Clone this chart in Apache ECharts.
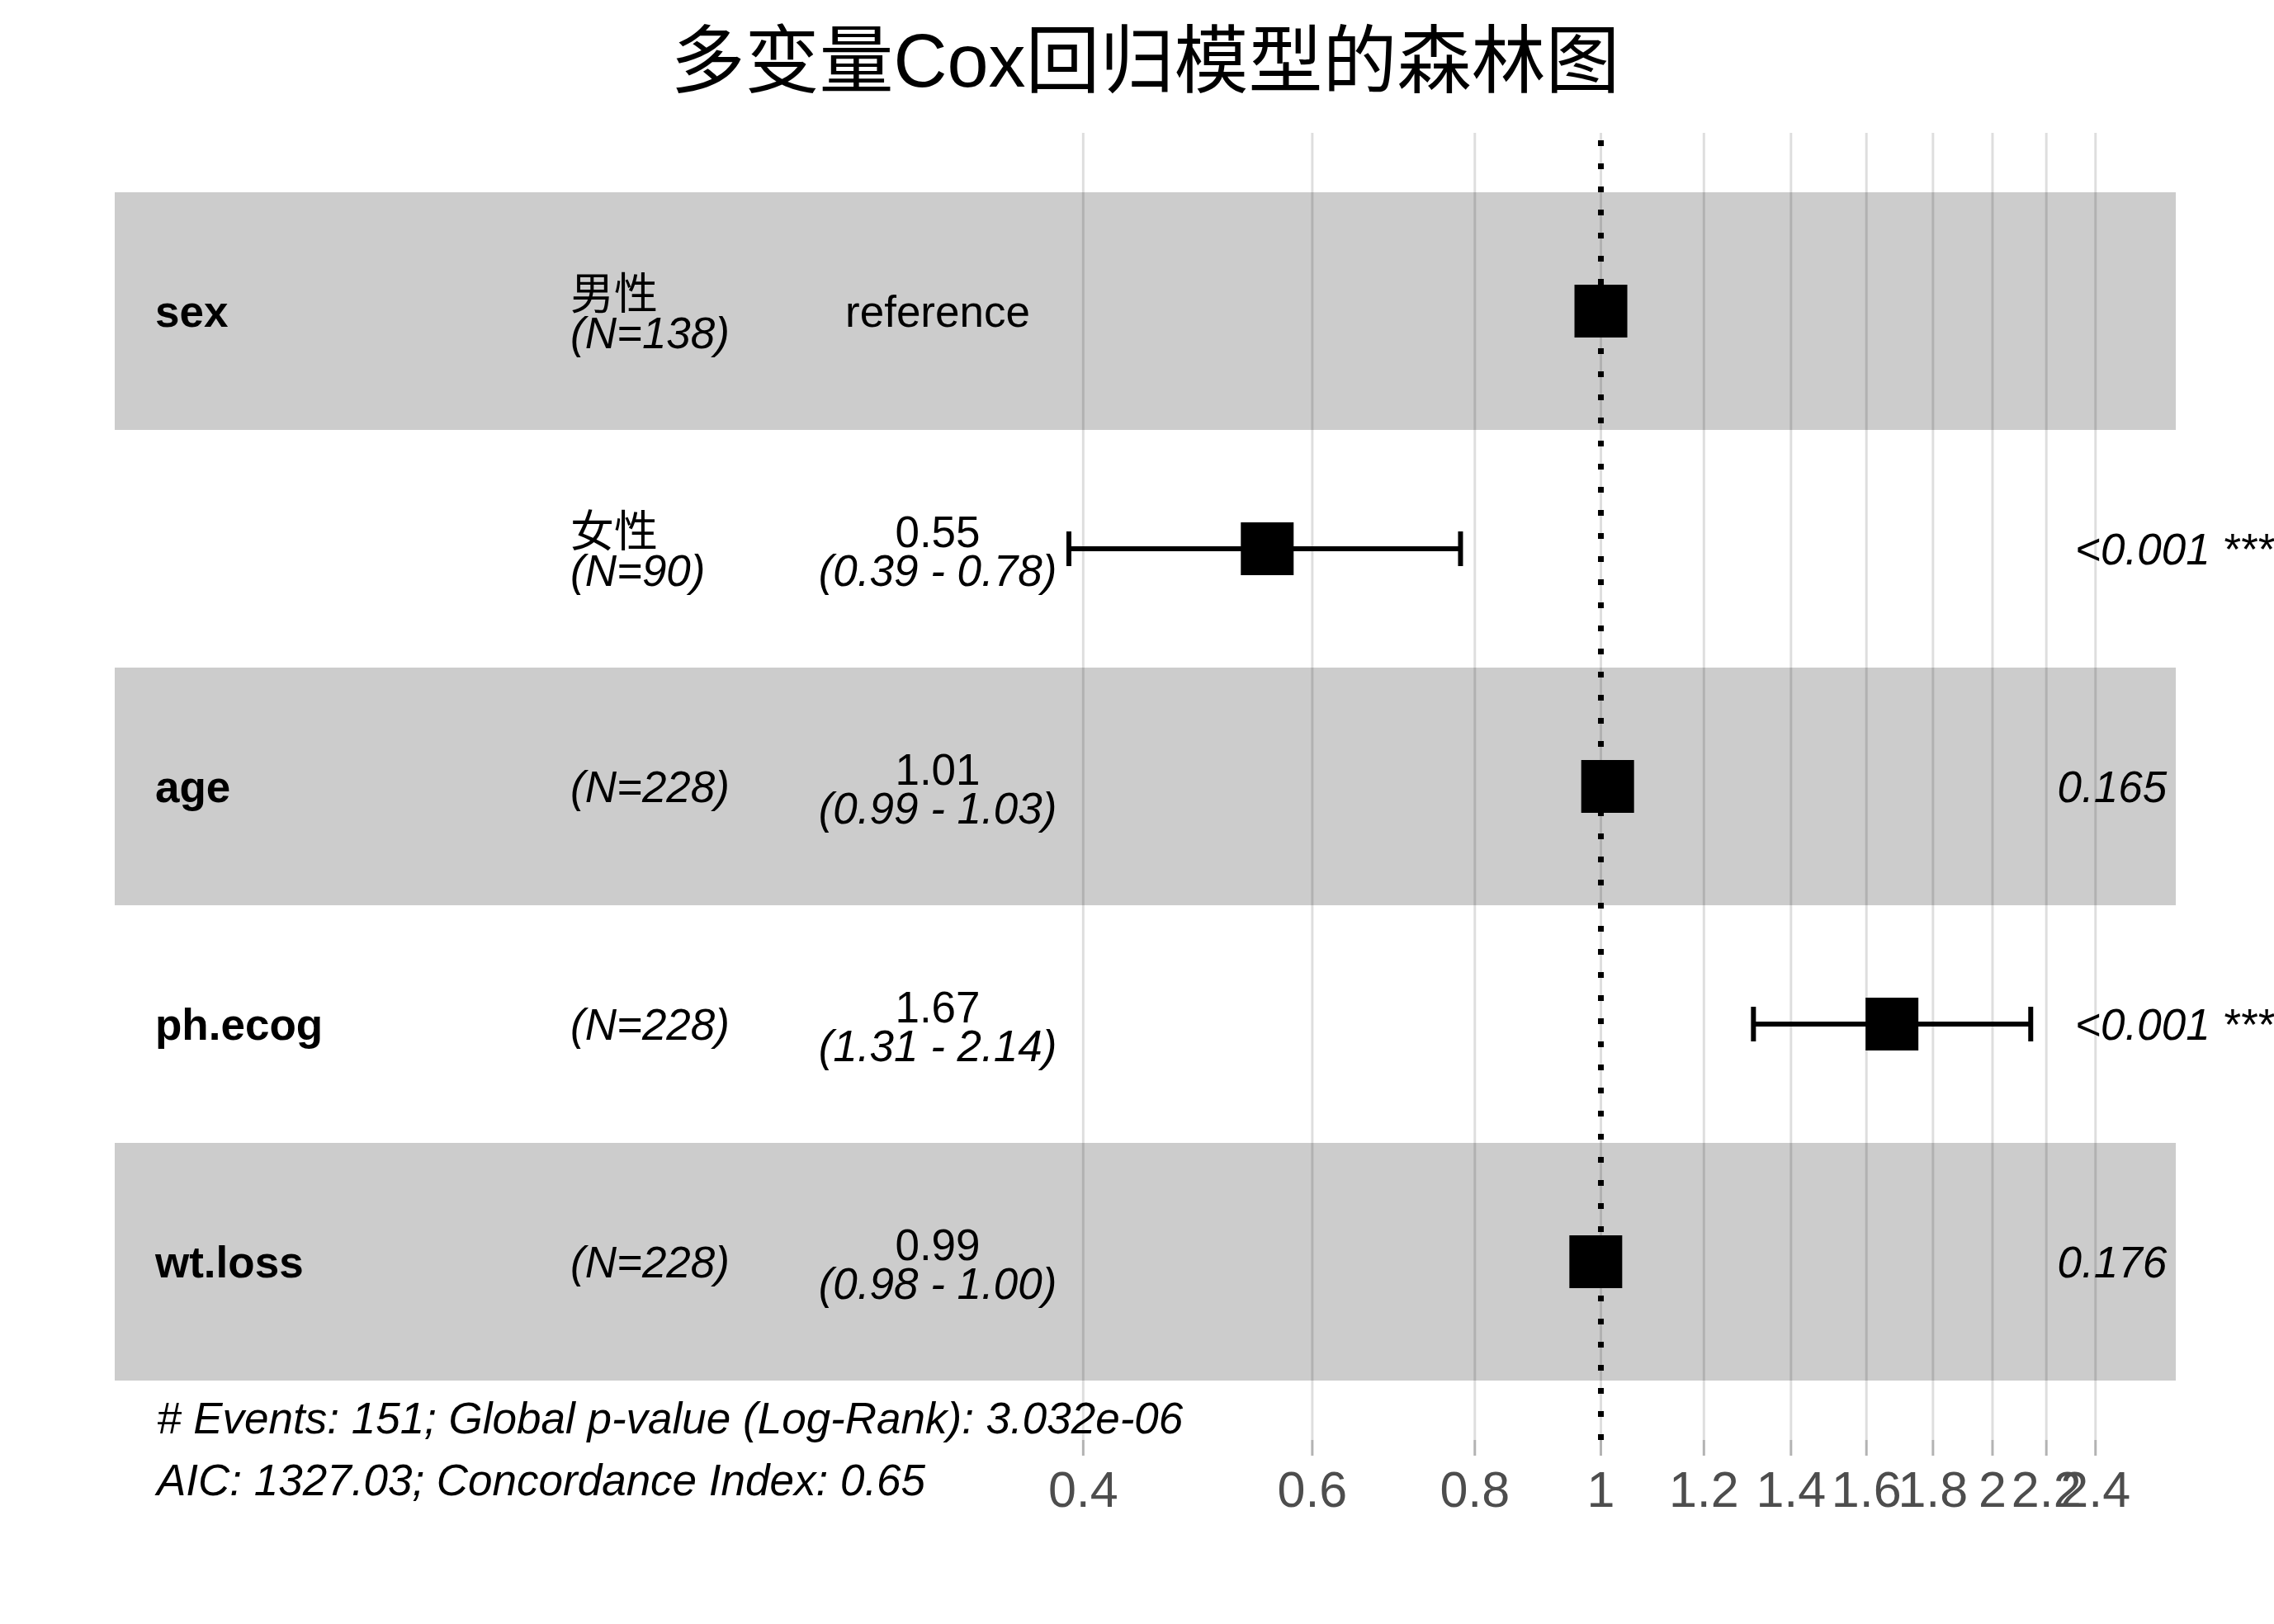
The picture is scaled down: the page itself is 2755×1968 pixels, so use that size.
<!DOCTYPE html>
<html><head><meta charset="utf-8">
<script src="https://cdn.jsdelivr.net/npm/echarts@6/dist/echarts.min.js"></script>
<style>html,body{margin:0;padding:0;background:#fff}#c{width:2755px;height:1968px}</style>
</head><body><div id="c"></div>
<script>
// ---------------- data ----------------
const chartTitle = '多变量Cox回归模型的森林图';
const varNames = ['sex', '', 'age', 'ph.ecog', 'wt.loss'];
const levels = ['男性', '女性', '', '', ''];
const nCounts = [138, 90, 228, 228, 228];
const hazardRatios = [1, 0.554, 1.012, 1.674, 0.991];
const estimateLabels = ['reference', '0.55', '1.01', '1.67', '0.99'];
const ciLow = [null, 0.39, 0.99, 1.31, 0.98];
const ciHigh = [null, 0.78, 1.03, 2.14, 1.00];
const ciLabels = ['', '(0.39 - 0.78)', '(0.99 - 1.03)', '(1.31 - 2.14)', '(0.98 - 1.00)'];
const pLabels = ['', '<0.001 ***', '0.165', '<0.001 ***', '0.176'];
const shadedRows = [0, 2, 4];
const tickValues = [0.4, 0.6, 0.8, 1, 1.2, 1.4, 1.6, 1.8, 2, 2.2, 2.4];
const tickLabels = ['0.4', '0.6', '0.8', '1', '1.2', '1.4', '1.6', '1.8', '2', '2.2', '2.4'];
const nEvents = 151;
const globalP = '3.032e-06';
const aic = '1327.03';
const concordance = '0.65';

// ---------------- layout ----------------
const FONT = '"Liberation Sans", "Noto Sans CJK SC", sans-serif';
const X_MIN = 0.07204, X_MAX = 2.7664;
const Y_MIN = -0.75, Y_MAX = 4.75;
const COL_VAR = 188, COL_LEVEL = 691, COL_EST = 1136, COL_P = 2466;
const TXT = 53;
const DY = 4;
const TITLE_SIZE = 90, TITLE_CX = 1387.5;

const mctx = document.createElement('canvas').getContext('2d');
function textWidth(t, font) { mctx.font = font; return mctx.measureText(t).width; }

function txt(x, y, text, extra) {
  return {
    type: 'text', x: x, y: y,
    style: Object.assign({
      text: text, fontSize: TXT, fontFamily: FONT, fill: '#000',
      align: 'left', verticalAlign: 'middle'
    }, extra || {})
  };
}

const titleW = textWidth(chartTitle, TITLE_SIZE + 'px ' + FONT);

const chart = echarts.init(document.getElementById('c'), null, { renderer: 'canvas' });

const option = {
  animation: false,
  backgroundColor: '#ffffff',
  title: {
    text: chartTitle, left: TITLE_CX - titleW / 2, top: 35, padding: 0,
    textStyle: { fontSize: TITLE_SIZE, fontWeight: 'normal', color: '#000', fontFamily: FONT }
  },
  grid: { left: 139, right: 119, top: 161, height: 1584 },
  xAxis: {
    type: 'log', min: X_MIN, max: X_MAX,
    axisLine: { show: false }, axisTick: { show: false },
    axisLabel: { show: false }, splitLine: { show: false }
  },
  yAxis: {
    type: 'value', inverse: true, min: Y_MIN, max: Y_MAX,
    axisLine: { show: false }, axisTick: { show: false },
    axisLabel: { show: false }, splitLine: { show: false }
  },
  graphic: [
    txt(190, 1722, '# Events: ' + nEvents + '; Global p-value (Log-Rank): ' + globalP, { fontStyle: 'italic' }),
    txt(190, 1797, 'AIC: ' + aic + '; Concordance Index: ' + concordance, { fontStyle: 'italic' })
  ],
  series: [
    { // zebra bands
      type: 'custom', z: 1, silent: true,
      data: shadedRows.map(r => [1, r]),
      renderItem(params, api) {
        const cs = params.coordSys;
        const r = api.value(1);
        const y0 = api.coord([1, r - 0.5])[1], y1 = api.coord([1, r + 0.5])[1];
        return { type: 'rect', shape: { x: cs.x, y: Math.min(y0, y1), width: cs.width, height: Math.abs(y1 - y0) },
                 style: { fill: '#CCCCCC' } };
      }
    },
    { // grid lines, ticks, labels
      type: 'custom', z: 2, silent: true,
      data: tickValues.map(v => [v, 0]),
      renderItem(params, api) {
        const v = api.value(0);
        const top = api.coord([v, Y_MIN]), bot = api.coord([v, Y_MAX]);
        const x = top[0];
        return { type: 'group', children: [
          { type: 'line', shape: { x1: x, y1: top[1], x2: x, y2: bot[1] }, style: { stroke: 'rgba(0,0,0,0.13)', lineWidth: 3 } },
          { type: 'line', shape: { x1: x, y1: bot[1], x2: x, y2: bot[1] + 19 }, style: { stroke: '#B3B3B3', lineWidth: 3 } },
          { type: 'text', x: x, y: bot[1] + 64, style: { text: tickLabels[params.dataIndex], fontSize: 61, fontFamily: FONT,
              fill: '#4D4D4D', align: 'center', verticalAlign: 'middle' } }
        ] };
      }
    },
    { // reference line at HR = 1
      type: 'custom', z: 3, silent: true,
      data: [[1, 0]],
      renderItem(params, api) {
        const b = api.coord([api.value(0), Y_MAX]), t = api.coord([api.value(0), Y_MIN]);
        return { type: 'line', shape: { x1: b[0], y1: b[1], x2: t[0], y2: t[1] },
                 style: { stroke: '#000', lineWidth: 7, lineDash: [7, 21], lineCap: 'butt' } };
      }
    },
    { // error bars
      type: 'custom', z: 4, silent: true,
      data: hazardRatios.map((v, i) => [ciLow[i], ciHigh[i], i]).filter(d => d[0] != null),
      renderItem(params, api) {
        const r = api.value(2);
        const a = api.coord([api.value(0), r]), b = api.coord([api.value(1), r]);
        const st = { stroke: '#000', lineWidth: 6 };
        return { type: 'group', children: [
          { type: 'line', shape: { x1: a[0], y1: a[1], x2: b[0], y2: b[1] }, style: st },
          { type: 'line', shape: { x1: a[0], y1: a[1] - 21, x2: a[0], y2: a[1] + 21 }, style: st },
          { type: 'line', shape: { x1: b[0], y1: b[1] - 21, x2: b[0], y2: b[1] + 21 }, style: st }
        ] };
      }
    },
    { // point estimates
      type: 'scatter', z: 5, silent: true,
      symbol: 'rect', symbolSize: 64,
      itemStyle: { color: '#000', opacity: 1 },
      data: hazardRatios.map((v, i) => [v, i])
    },
    { // table text
      type: 'custom', z: 6, silent: true,
      data: hazardRatios.map((v, i) => [1, i]),
      renderItem(params, api) {
        const i = params.dataIndex;
        const yc = api.coord([1, i])[1] + DY;
        const ch = [];
        if (varNames[i]) ch.push(txt(COL_VAR, yc, varNames[i], { fontWeight: 'bold', fontSize: 53 }));
        const nText = '(N=' + nCounts[i] + ')';
        if (levels[i]) {
          ch.push(txt(COL_LEVEL, yc - 21, levels[i]));
          ch.push(txt(COL_LEVEL, yc + 26, nText, { fontStyle: 'italic' }));
        } else {
          ch.push(txt(COL_LEVEL, yc, nText, { fontStyle: 'italic' }));
        }
        if (!ciLabels[i]) {
          ch.push(txt(COL_EST, yc, estimateLabels[i], { align: 'center' }));
        } else {
          ch.push(txt(COL_EST, yc - 21, estimateLabels[i], { align: 'center' }));
          ch.push(txt(COL_EST, yc + 26, ciLabels[i], { align: 'center', fontStyle: 'italic' }));
        }
        if (pLabels[i]) {
          const w = textWidth(pLabels[i], 'italic ' + TXT + 'px ' + FONT);
          ch.push(txt(COL_P + 0.2 * w, yc, pLabels[i], { fontStyle: 'italic' }));
        }
        return { type: 'group', children: ch };
      }
    }
  ]
};
chart.setOption(option);
</script></body></html>
